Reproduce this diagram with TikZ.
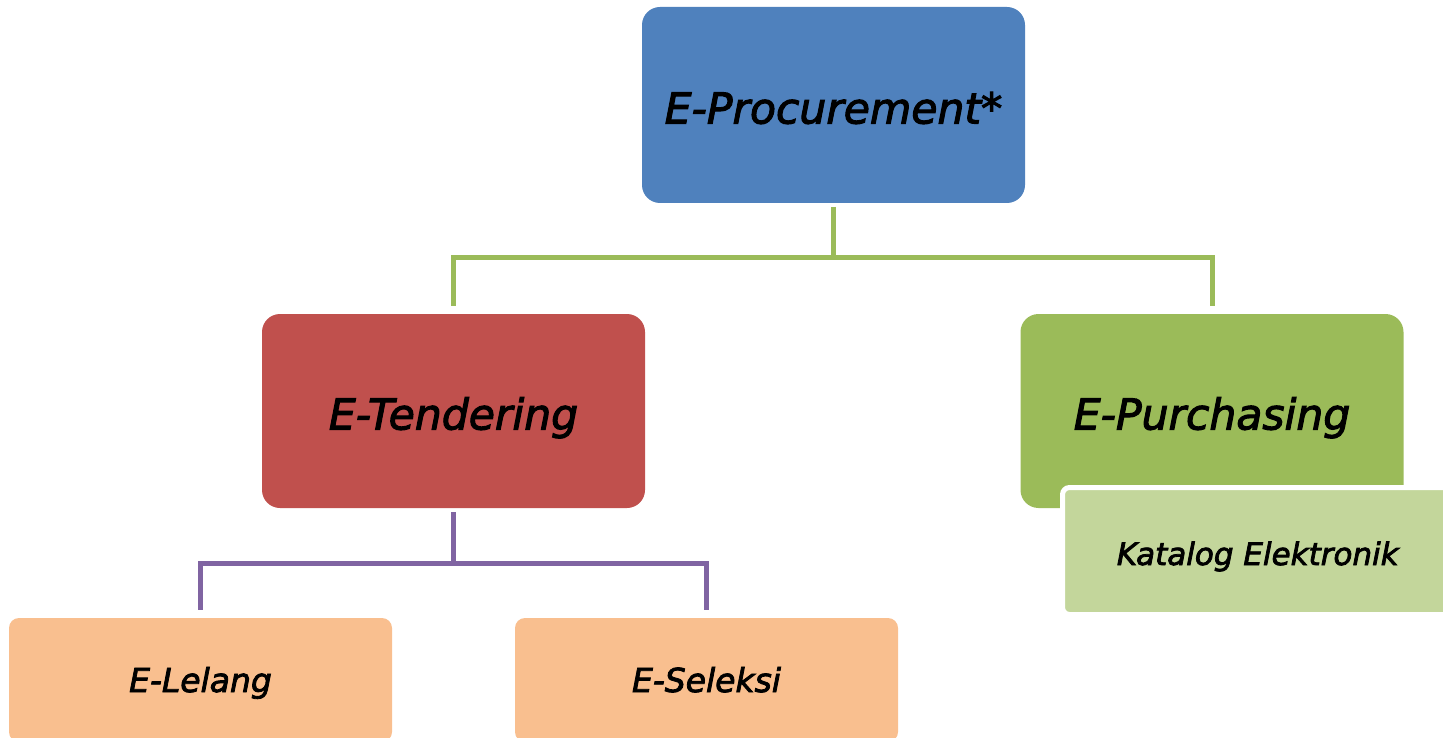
\documentclass[tikz,border=0pt]{standalone}
\usepackage{fontspec}
\setmainfont{DejaVu Sans}[ItalicFeatures={FakeBold=2.5}]
\definecolor{cblue}{HTML}{4F81BD}
\definecolor{cred}{HTML}{C0504D}
\definecolor{cgreen}{HTML}{9BBB59}
\definecolor{clgreen}{HTML}{C3D69B}
\definecolor{corange}{HTML}{F9BF8F}
\definecolor{cpurple}{HTML}{8064A2}
\tikzset{
  bigbox/.style={rectangle, rounded corners=18pt, minimum width=383pt, minimum height=196pt,
    inner sep=0pt, outer sep=0pt, draw=none,
    font=\fontsize{42.5}{50}\selectfont\itshape, text height=37pt, text depth=0pt},
  smallbox/.style={rectangle, rounded corners=10pt, fill=corange, minimum width=383pt, minimum height=124pt,
    inner sep=0pt, outer sep=0pt, draw=none,
    font=\fontsize{33}{40}\selectfont\itshape, text height=24pt, text depth=0pt},
  subbox/.style={rectangle, rounded corners=7pt, fill=clgreen, draw=white, line width=5pt,
    minimum width=390.5pt, minimum height=127pt, inner sep=0pt, outer sep=0pt,
    font=\fontsize{31}{38}\selectfont\itshape, text height=28pt, text depth=0pt},
  gline/.style={draw=cgreen, line width=5pt},
  pline/.style={draw=cpurple, line width=5pt}
}
\begin{document}
\begin{tikzpicture}[x=1pt,y=-1pt]
\useasboundingbox (0,0) rectangle (1443,738);
\node[bigbox, fill=cblue] (proc) at (833.5,105) {E-Procurement*};
\node[bigbox, fill=cred, minimum height=194pt] (tend) at (453.5,411) {E-Tendering};
\node[bigbox, fill=cgreen, minimum height=194pt] (purc) at (1212,411) {E-Purchasing};
\node[subbox] (kat) at (1257.75,551) {Katalog Elektronik};
\node[smallbox] (lel) at (200.5,680) {E-Lelang};
\node[smallbox] (sel) at (706.5,680) {E-Seleksi};
\draw[gline, shorten <=4pt, shorten >=8pt] (proc.south) -- ++(0,54) -| (tend.north);
\draw[gline, shorten <=4pt, shorten >=8pt] (proc.south) -- ++(0,54) -| (purc.north);
\draw[pline, shorten <=4pt, shorten >=8pt] (tend.south) -- ++(0,55) -| (lel.north);
\draw[pline, shorten <=4pt, shorten >=8pt] (tend.south) -- ++(0,55) -| (sel.north);
\end{tikzpicture}
\end{document}
